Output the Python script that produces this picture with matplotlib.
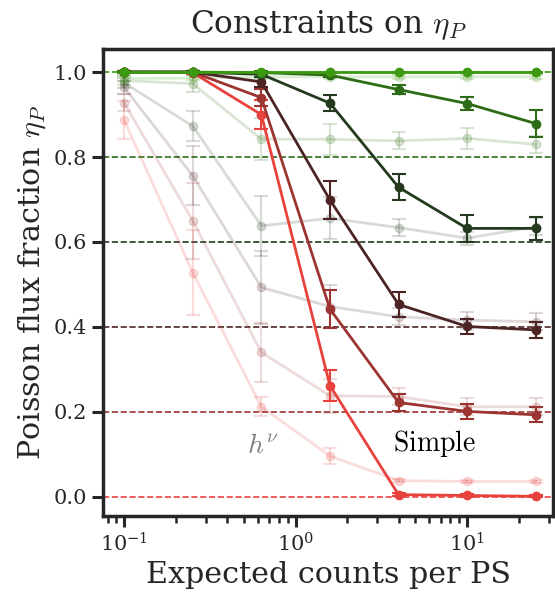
import matplotlib
matplotlib.use("Agg")
import matplotlib.pyplot as plt

# expected counts per PS
counts = [0.1, 0.251, 0.631, 1.585, 3.981, 10.0, 25.12]

# true Poisson fractions (one series per value)
eta_true = [0.0, 0.2, 0.4, 0.6, 0.8, 1.0]
colors = ["#e8423d", "#9c3532", "#4c2424", "#233a1f", "#2e6b16", "#3c9a12"]

# "Simple" prior: mean and error
simple_mean = [
    [1.0, 0.999, 0.900, 0.262, 0.005, 0.003, 0.001],
    [1.0, 1.0, 0.940, 0.442, 0.222, 0.201, 0.193],
    [1.0, 1.0, 0.977, 0.699, 0.453, 0.401, 0.393],
    [1.0, 1.0, 0.995, 0.927, 0.729, 0.632, 0.632],
    [1.0, 1.0, 0.999, 0.993, 0.959, 0.926, 0.879],
    [1.0, 1.0, 1.0, 1.0, 1.0, 1.0, 1.0],
]
simple_err = [
    [0.002, 0.004, 0.035, 0.036, 0.004, 0.003, 0.002],
    [0.002, 0.003, 0.020, 0.044, 0.020, 0.018, 0.018],
    [0.002, 0.003, 0.012, 0.045, 0.029, 0.018, 0.019],
    [0.002, 0.002, 0.006, 0.019, 0.030, 0.031, 0.027],
    [0.002, 0.002, 0.003, 0.004, 0.010, 0.016, 0.031],
    [0.001, 0.001, 0.001, 0.001, 0.001, 0.001, 0.001],
]

# h^nu prior: mean and error
hnu_mean = [
    [0.887, 0.528, 0.212, 0.096, 0.038, 0.036, 0.036],
    [0.928, 0.650, 0.340, 0.238, 0.236, 0.212, 0.212],
    [0.964, 0.756, 0.493, 0.448, 0.424, 0.416, 0.412],
    [0.975, 0.873, 0.638, 0.656, 0.634, 0.609, 0.636],
    [0.980, 0.973, 0.842, 0.842, 0.838, 0.844, 0.830],
    [0.985, 0.986, 0.989, 0.989, 0.989, 0.989, 0.989],
]
hnu_err = [
    [0.045, 0.100, 0.022, 0.020, 0.004, 0.003, 0.003],
    [0.020, 0.090, 0.070, 0.040, 0.020, 0.020, 0.020],
    [0.015, 0.070, 0.085, 0.050, 0.020, 0.020, 0.020],
    [0.012, 0.035, 0.070, 0.050, 0.020, 0.015, 0.020],
    [0.010, 0.020, 0.050, 0.037, 0.020, 0.025, 0.020],
    [0.005, 0.005, 0.004, 0.004, 0.004, 0.004, 0.004],
]

plt.rcParams["font.family"] = "DejaVu Serif"
plt.rcParams["mathtext.fontset"] = "cm"

fig = plt.figure(figsize=(5.55, 5.95), dpi=100)
ax = fig.add_axes([0.186, 0.133, 0.810, 0.785])

for i, eta in enumerate(eta_true):
    c = colors[i]
    ax.axhline(eta, color=c, linestyle="--", linewidth=1.2, zorder=1)
    ax.errorbar(counts, hnu_mean[i], yerr=hnu_err[i], color=c, alpha=0.18,
                marker="o", markersize=6, linewidth=2, capsize=5, capthick=1.5,
                elinewidth=1.5, zorder=2)
    ax.errorbar(counts, simple_mean[i], yerr=simple_err[i], color=c,
                marker="o", markersize=6, linewidth=2, capsize=5, capthick=1.5,
                elinewidth=1.5, zorder=3)

ax.text(0.643, 0.12, r"$h^\nu$", color="gray", fontsize=20, ha="center", va="center")
ax.text(6.43, 0.125, r"$\mathrm{Simple}$", color="black", fontsize=20, ha="center", va="center")

ax.set_xscale("log")
ax.set_xlim(0.0755, 31.6)
ax.set_ylim(-0.045, 1.055)
ax.set_yticks([0.0, 0.2, 0.4, 0.6, 0.8, 1.0])
ax.set_yticklabels(["0.0", "0.2", "0.4", "0.6", "0.8", "1.0"])

for side in ["left", "bottom", "top", "right"]:
    ax.spines[side].set_linewidth(2.5)
    ax.spines[side].set_color("#262626")
ax.tick_params(axis="both", which="major", length=8, width=2.2, labelsize=15, color="#262626", labelcolor="#262626")
ax.tick_params(axis="both", which="minor", length=5, width=1.8, color="#262626")

ax.set_xlabel("Expected counts per PS", fontsize=21.7, color="#262626")
ax.set_ylabel(r"Poisson flux fraction $\eta_P$", fontsize=21.7, color="#262626")
ax.set_title(r"Constraints on $\eta_P$", fontsize=22.5, color="#262626", pad=11)

fig.savefig("out.png", dpi=100)
